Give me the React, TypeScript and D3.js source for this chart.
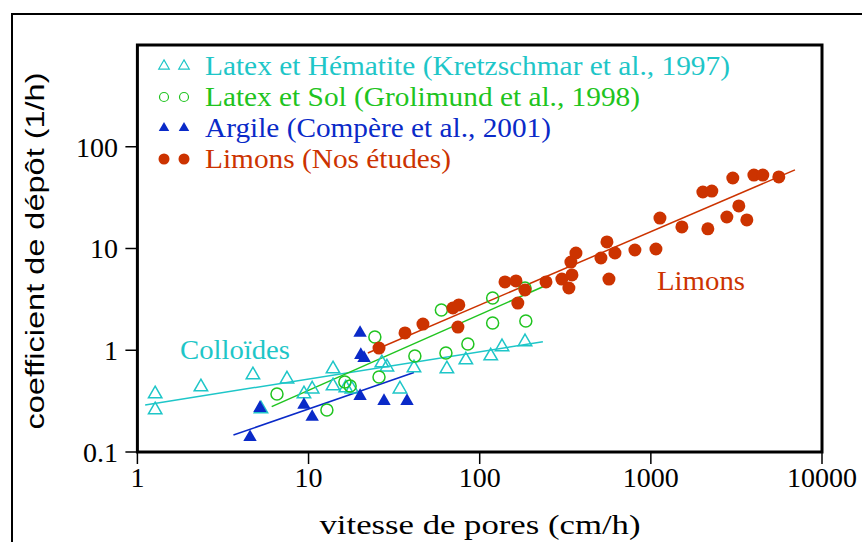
import * as d3 from "d3";

// values (log-log axes)
const hematiteX = [1.27, 1.27, 2.35, 4.73, 7.48, 9.4, 10.5, 5.27, 13.9, 13.9, 16.5, 17.9, 26.8, 28.7, 34.2, 41.3, 64.3, 83, 116, 135, 184];
const hematiteY = [0.372, 0.259, 0.436, 0.572, 0.521, 0.372, 0.416, 0.265, 0.655, 0.446, 0.426, 0.416, 0.75, 0.684, 0.416, 0.67, 0.655, 0.802, 0.878, 1.08, 1.21];

const solX = [6.54, 12.8, 16.3, 17.5, 24.4, 25.8, 41.8, 59.7, 63.5, 85.3, 119, 119, 186, 184];
const solY = [0.372, 0.259, 0.488, 0.446, 1.35, 0.546, 0.878, 2.49, 0.939, 1.15, 1.85, 3.26, 1.94, 4.09];

const argileX = [4.55, 5.2, 9.4, 10.5, 20, 20.2, 21.1, 20, 27.6, 37.6];
const argileY = [0.14, 0.27, 0.29, 0.221, 1.48, 0.898, 0.839, 0.355, 0.317, 0.317];

const limonsX = [25.8, 36.6, 46.6, 69.7, 75.5, 74.6, 140.5, 163, 184, 167, 244, 302, 332, 346, 341, 365, 511, 554, 617, 569, 807, 1071, 1130, 1518, 2153, 2013, 2271, 2780, 3266, 3638, 3012, 4000, 4510, 5594];
const limonsY = [1.05, 1.48, 1.81, 2.6, 2.79, 1.69, 4.69, 4.8, 3.91, 2.91, 4.69, 5.01, 4.09, 5.5, 7.36, 9.03, 8.07, 11.6, 9.03, 5.01, 9.66, 9.89, 19.9, 16.3, 15.6, 35.9, 36.7, 20.4, 26.2, 19.1, 49.3, 52.7, 52.7, 50.5];

// fitted lines: [x0, y0, x1, y1]
const fitColloides = [1.11, 0.29, 234, 1.21];
const fitSol = [6.09, 0.279, 234, 4.21];
const fitArgile = [3.64, 0.147, 41.3, 0.604];
const fitLimons = [22.2, 0.94, 6950, 59.2];

const xTicks = [1, 10, 100, 1000, 10000];
const yTicks = [0.1, 1, 10, 100];
const legendLabels = [
  "Latex et Hématite (Kretzschmar et al., 1997)",
  "Latex et Sol (Grolimund et al., 1998)",
  "Argile (Compère et al., 2001)",
  "Limons (Nos études)",
];

const CYAN = "#1ec6c8";
const GREEN = "#20c420";
const BLUE = "#0a2ac8";
const RED = "#cc3300";

const W = 862;
const H = 542;
const left = 137.4, right = 822, top = 45, bottom = 452;

const SERIF = "Liberation Serif";
const SANS = "Liberation Sans";

export default function App() {
  const x = d3.scaleLog().domain([1, 10000]).range([left, right]);
  const y = d3.scaleLog().domain([0.1, 1000]).range([bottom, top]);

  const tri = (s: number) => d3.symbol(d3.symbolTriangle, s)() as string;
  const triBig = tri(78);
  const triSmall = tri(48);

  const fitLine = (f: number[], color: string) => (
    <line x1={x(f[0])} y1={y(f[1])} x2={x(f[2])} y2={y(f[3])} stroke={color} strokeWidth={1.5} />
  );

  const legendColors = [CYAN, GREEN, BLUE, RED];
  const legendWidths = [525, 435, 346, 246];
  const legendMarker = (i: number, cx: number, cy: number) => {
    if (i === 0) return <path d={triSmall} transform={`translate(${cx},${cy})`} fill="none" stroke={CYAN} strokeWidth={1.2} />;
    if (i === 1) return <circle cx={cx} cy={cy} r={4.5} fill="none" stroke={GREEN} strokeWidth={1.2} />;
    if (i === 2) return <path d={triSmall} transform={`translate(${cx},${cy})`} fill={BLUE} />;
    return <circle cx={cx} cy={cy} r={5.5} fill={RED} />;
  };

  return (
    <div style={{ position: "absolute", left: 0, top: 0 }}>
      <svg width={W} height={H} fontFamily={SERIF} style={{ display: "block", background: "#fff" }}>
        <rect x={0} y={0} width={W} height={H} fill="#fff" />
        {/* outer frame */}
        <rect x={12} y={14} width={W + 20} height={H + 20} fill="none" stroke="#000" strokeWidth={2} />

        {/* fit lines */}
        {fitLine(fitColloides, CYAN)}
        {fitLine(fitSol, GREEN)}
        {fitLine(fitArgile, BLUE)}
        {fitLine(fitLimons, RED)}

        {/* data */}
        {hematiteX.map((v, i) => (
          <path key={`h${i}`} d={triBig} transform={`translate(${x(v)},${y(hematiteY[i])})`} fill="none" stroke={CYAN} strokeWidth={1.5} />
        ))}
        {solX.map((v, i) => (
          <circle key={`s${i}`} cx={x(v)} cy={y(solY[i])} r={6} fill="none" stroke={GREEN} strokeWidth={1.5} />
        ))}
        {argileX.map((v, i) => (
          <path key={`a${i}`} d={triBig} transform={`translate(${x(v)},${y(argileY[i])})`} fill={BLUE} />
        ))}
        {limonsX.map((v, i) => (
          <circle key={`l${i}`} cx={x(v)} cy={y(limonsY[i])} r={6.5} fill={RED} />
        ))}

        {/* plot frame */}
        <rect x={left} y={top} width={right - left} height={bottom - top} fill="none" stroke="#000" strokeWidth={3} />

        {/* axes */}
        {xTicks.map((t) => (
          <g key={`xt${t}`}>
            <line x1={x(t)} x2={x(t)} y1={bottom} y2={bottom + 12} stroke="#000" strokeWidth={1.5} />
            <text x={x(t)} y={487} textAnchor="middle" fontSize={28} fontFamily={SERIF}>{t}</text>
          </g>
        ))}
        {yTicks.map((t) => (
          <g key={`yt${t}`}>
            <line x1={left - 12} x2={left} y1={y(t)} y2={y(t)} stroke="#000" strokeWidth={1.5} />
            <text x={118} y={y(t)} dy="0.35em" textAnchor="end" fontSize={28} fontFamily={SERIF}>{t}</text>
          </g>
        ))}

        <text x={480} y={534} textAnchor="middle" fontSize={28} fontFamily={SERIF} textLength={321} lengthAdjust="spacingAndGlyphs">vitesse de pores (cm/h)</text>
        <text
          transform="translate(44,251) rotate(-90)"
          textAnchor="middle"
          fontSize={26}
          fontFamily={SANS}
          textLength={357}
          lengthAdjust="spacingAndGlyphs"
        >
          coefficient de dépôt (1/h)
        </text>

        {/* legend */}
        {legendLabels.map((lab, i) => {
          const cy = 66 + i * 31;
          return (
            <g key={lab}>
              {legendMarker(i, 164, cy)}
              {legendMarker(i, 184, cy)}
              <text x={205} y={cy} dy="0.33em" fontSize={28} fontFamily={SERIF} fill={legendColors[i]} textLength={legendWidths[i]} lengthAdjust="spacingAndGlyphs">
                {lab}
              </text>
            </g>
          );
        })}

        <text x={180} y={359} fontSize={28} fontFamily={SERIF} fill={CYAN} textLength={110} lengthAdjust="spacingAndGlyphs">Colloïdes</text>
        <text x={657} y={290} fontSize={28} fontFamily={SERIF} fill={RED} textLength={88} lengthAdjust="spacingAndGlyphs">Limons</text>
      </svg>
    </div>
  );
}
